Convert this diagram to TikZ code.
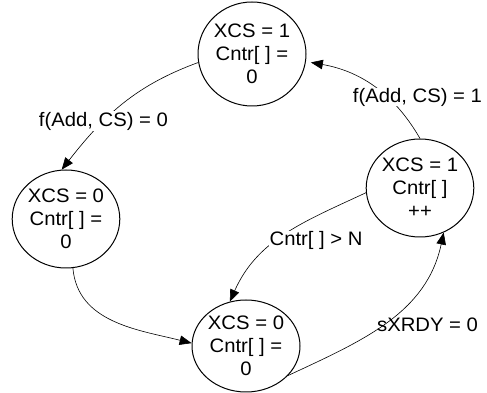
\documentclass[tikz,border=0pt]{standalone}
\usepackage{fontspec}
\setmainfont{Liberation Sans}[FakeStretch=1.04]
\usetikzlibrary{shapes}
\usetikzlibrary{arrows.meta}

\begin{document}
\begin{tikzpicture}[x=1pt, y=1pt, font={\fontsize{19.5}{23}\selectfont}]

    \tikzset{edge/.style = {-{Triangle[length=12pt,width=9.5pt]}, line width=0.6pt}}
    \tikzset{state/.style = {ellipse, draw=black, line width=1pt, inner sep=0pt, align=center}}
    \tikzset{lbl/.style = {fill=white, inner sep=1pt}}

    \useasboundingbox (0,0) rectangle (487,393);

    % vertices
    \node[state, minimum width=108, minimum height=104] (a) at (252,339) {XCS = 1\\Cntr[ ] =\\0};
    \node[state, minimum width=107, minimum height=98] (b) at (66,174) {XCS = 0\\Cntr[ ] =\\0};
    \node[state, minimum width=108, minimum height=92] (c) at (246,47) {XCS = 0\\Cntr[ ] =\\0};
    \node[state, minimum width=94, minimum height=98] (d) at (420,205) {XCS = 1\\Cntr[ ]\\++};

    %edges
    \draw[edge] (a.189) to[out=200, in=52] node[lbl, pos=0.65] {f(Add, CS) = 0} (b.95);
    \draw[edge, shorten >=5pt] (d.90) to[out=120, in=-10] node[lbl, inner sep=0pt, pos=0.4, xshift=34pt, yshift=-3pt] {f(Add, CS) = 1} (a.352);
    \draw[edge] (d.185) to[out=205, in=66] node[lbl, pos=0.5, xshift=31pt, yshift=-6pt] {Cntr[ ] > N} (c.110);
    \draw[edge] (c.325) to[out=25, in=258] node[pos=0.5, anchor=west, xshift=-14pt, yshift=-4pt] {sXRDY = 0} (d.298);
    \draw[edge] (b.278) to[out=275, in=166] (c.177);

\end{tikzpicture}
\end{document}
